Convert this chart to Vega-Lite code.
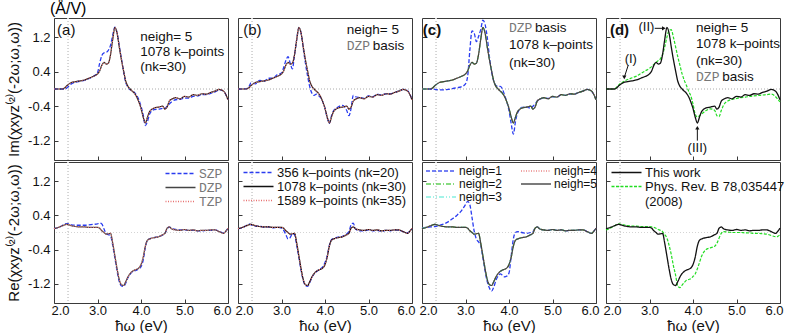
{
"$schema": "https://vega.github.io/schema/vega-lite/v6.json",
"background": "white",
"padding": {"left": 6, "top": 0, "right": 0, "bottom": 0},
"datasets": {"d": [
{"x":2.0,"im":0,"re":0.09,"is":0,"rs":0.09,"ik":0,"rk":0.09,"in1":0,"rn1":0.10,"ip":0,"rp":0.06},
{"x":2.1,"im":0,"re":0.12,"is":0,"rs":0.12,"ik":0,"rk":0.11,"in1":0,"rn1":0.12,"ip":0,"rp":0.10},
{"x":2.2,"im":0.0,"re":0.16,"is":0,"rs":0.17,"ik":0.01,"rk":0.17,"in1":0,"rn1":0.13,"ip":0.0,"rp":0.16},
{"x":2.25,"im":0.03,"re":0.18,"is":0.0,"rs":0.2,"ik":0.05,"rk":0.2,"in1":0,"rn1":0.14,"ip":0.05,"rp":0.19},
{"x":2.3,"im":0.08,"re":0.19,"is":0.03,"rs":0.21,"ik":0.14,"rk":0.18,"in1":-0.01,"rn1":0.14,"ip":0.1,"rp":0.2},
{"x":2.4,"im":0.15,"re":0.16,"is":0.12,"rs":0.18,"ik":0.12,"rk":0.15,"in1":-0.02,"rn1":0.17,"ip":0.17,"rp":0.18},
{"x":2.5,"im":0.17,"re":0.14,"is":0.16,"rs":0.17,"ik":0.2,"rk":0.15,"in1":-0.02,"rn1":0.2,"ip":0.22,"rp":0.16},
{"x":2.6,"im":0.19,"re":0.13,"is":0.18,"rs":0.17,"ik":0.18,"rk":0.12,"in1":-0.01,"rn1":0.25,"ip":0.26,"rp":0.15},
{"x":2.7,"im":0.21,"re":0.13,"is":0.2,"rs":0.17,"ik":0.25,"rk":0.13,"in1":0.01,"rn1":0.32,"ip":0.3,"rp":0.15},
{"x":2.8,"im":0.25,"re":0.12,"is":0.24,"rs":0.18,"ik":0.25,"rk":0.11,"in1":0.03,"rn1":0.4,"ip":0.36,"rp":0.14},
{"x":2.9,"im":0.29,"re":0.12,"is":0.29,"rs":0.19,"ik":0.33,"rk":0.12,"in1":0.05,"rn1":0.5,"ip":0.42,"rp":0.14},
{"x":3.0,"im":0.35,"re":0.12,"is":0.38,"rs":0.2,"ik":0.37,"rk":0.1,"in1":0.12,"rn1":0.65,"ip":0.48,"rp":0.14},
{"x":3.05,"im":0.42,"re":0.1,"is":0.6,"rs":0.22,"ik":0.5,"rk":0.05,"in1":0.3,"rn1":0.73,"ip":0.52,"rp":0.13},
{"x":3.1,"im":0.55,"re":0.04,"is":0.78,"rs":0.2,"ik":0.66,"rk":-0.05,"in1":0.9,"rn1":0.65,"ip":0.57,"rp":0.12},
{"x":3.15,"im":0.62,"re":0.0,"is":0.84,"rs":0.08,"ik":0.75,"rk":-0.15,"in1":1.35,"rn1":0.35,"ip":0.62,"rp":0.1},
{"x":3.2,"im":0.58,"re":-0.04,"is":0.85,"rs":-0.02,"ik":0.6,"rk":-0.12,"in1":1.3,"rn1":0.03,"ip":0.66,"rp":0.07},
{"x":3.25,"im":0.6,"re":-0.03,"is":0.9,"rs":-0.05,"ik":0.47,"rk":-0.03,"in1":1.1,"rn1":-0.15,"ip":0.7,"rp":0.05},
{"x":3.3,"im":0.8,"re":-0.02,"is":1.02,"rs":-0.08,"ik":0.8,"rk":-0.05,"in1":1.22,"rn1":-0.22,"ip":0.8,"rp":0.02},
{"x":3.35,"im":1.15,"re":-0.25,"is":1.25,"rs":-0.3,"ik":1.15,"rk":-0.3,"in1":1.38,"rn1":-0.3,"ip":0.98,"rp":-0.05},
{"x":3.4,"im":1.43,"re":-0.55,"is":1.44,"rs":-0.6,"ik":1.42,"rk":-0.58,"in1":1.6,"rn1":-0.6,"ip":1.2,"rp":-0.13},
{"x":3.45,"im":1.3,"re":-0.85,"is":1.3,"rs":-0.9,"ik":1.3,"rk":-0.88,"in1":1.5,"rn1":-0.9,"ip":1.36,"rp":-0.3},
{"x":3.5,"im":0.98,"re":-1.1,"is":1.0,"rs":-1.15,"ik":0.95,"rk":-1.12,"in1":1.2,"rn1":-1.15,"ip":1.38,"rp":-0.51},
{"x":3.55,"im":0.68,"re":-1.22,"is":0.7,"rs":-1.25,"ik":0.6,"rk":-1.24,"in1":0.75,"rn1":-1.3,"ip":1.2,"rp":-0.78},
{"x":3.6,"im":0.42,"re":-1.24,"is":0.4,"rs":-1.26,"ik":0.3,"rk":-1.26,"in1":0.4,"rn1":-1.37,"ip":0.98,"rp":-1.0},
{"x":3.65,"im":0.18,"re":-1.15,"is":0.15,"rs":-1.18,"ik":0.05,"rk":-1.17,"in1":0.18,"rn1":-1.28,"ip":0.75,"rp":-1.25},
{"x":3.7,"im":0.06,"re":-1.04,"is":0.05,"rs":-1.06,"ik":-0.1,"rk":-1.05,"in1":0.08,"rn1":-1.12,"ip":0.55,"rp":-1.29},
{"x":3.75,"im":0.0,"re":-0.96,"is":-0.02,"rs":-0.98,"ik":-0.15,"rk":-0.97,"in1":0.06,"rn1":-1.02,"ip":0.35,"rp":-1.23},
{"x":3.8,"im":-0.05,"re":-0.91,"is":-0.04,"rs":-0.92,"ik":-0.12,"rk":-0.92,"in1":0.06,"rn1":-0.97,"ip":0.2,"rp":-1.17},
{"x":3.85,"im":-0.1,"re":-0.88,"is":-0.08,"rs":-0.9,"ik":-0.15,"rk":-0.88,"in1":0.0,"rn1":-1.0,"ip":0.08,"rp":-1.12},
{"x":3.9,"im":-0.18,"re":-0.86,"is":-0.15,"rs":-0.88,"ik":-0.2,"rk":-0.85,"in1":-0.15,"rn1":-1.04,"ip":-0.05,"rp":-1.1},
{"x":3.95,"im":-0.3,"re":-0.83,"is":-0.25,"rs":-0.85,"ik":-0.3,"rk":-0.8,"in1":-0.3,"rn1":-1.02,"ip":-0.16,"rp":-1.08},
{"x":4.0,"im":-0.45,"re":-0.75,"is":-0.4,"rs":-0.8,"ik":-0.45,"rk":-0.7,"in1":-0.5,"rn1":-0.95,"ip":-0.35,"rp":-1.03},
{"x":4.05,"im":-0.65,"re":-0.58,"is":-0.6,"rs":-0.65,"ik":-0.66,"rk":-0.55,"in1":-0.8,"rn1":-0.55,"ip":-0.58,"rp":-0.97},
{"x":4.1,"im":-0.79,"re":-0.32,"is":-0.85,"rs":-0.35,"ik":-0.8,"rk":-0.3,"in1":-1.05,"rn1":-0.15,"ip":-0.65,"rp":-0.85},
{"x":4.15,"im":-0.65,"re":-0.18,"is":-0.75,"rs":-0.18,"ik":-0.62,"rk":-0.17,"in1":-0.75,"rn1":0.0,"ip":-0.62,"rp":-0.7},
{"x":4.2,"im":-0.52,"re":-0.15,"is":-0.58,"rs":-0.15,"ik":-0.5,"rk":-0.14,"in1":-0.55,"rn1":0.02,"ip":-0.58,"rp":-0.55},
{"x":4.3,"im":-0.44,"re":-0.12,"is":-0.48,"rs":-0.12,"ik":-0.42,"rk":-0.11,"in1":-0.43,"rn1":0.0,"ip":-0.5,"rp":-0.4},
{"x":4.4,"im":-0.42,"re":-0.1,"is":-0.47,"rs":-0.1,"ik":-0.38,"rk":-0.09,"in1":-0.42,"rn1":-0.02,"ip":-0.46,"rp":-0.36},
{"x":4.5,"im":-0.4,"re":-0.05,"is":-0.45,"rs":-0.06,"ik":-0.5,"rk":-0.03,"in1":-0.45,"rn1":0.0,"ip":-0.5,"rp":-0.32},
{"x":4.55,"im":-0.47,"re":-0.02,"is":-0.45,"rs":-0.02,"ik":-0.62,"rk":0.02,"in1":-0.4,"rn1":0.02,"ip":-0.62,"rp":-0.25},
{"x":4.6,"im":-0.42,"re":0.1,"is":-0.4,"rs":0.08,"ik":-0.45,"rk":0.18,"in1":-0.35,"rn1":0.1,"ip":-0.64,"rp":-0.13},
{"x":4.65,"im":-0.28,"re":0.13,"is":-0.35,"rs":0.13,"ik":-0.15,"rk":0.22,"in1":-0.28,"rn1":0.13,"ip":-0.5,"rp":-0.02},
{"x":4.7,"im":-0.24,"re":0.09,"is":-0.3,"rs":0.1,"ik":-0.18,"rk":0.08,"in1":-0.24,"rn1":0.09,"ip":-0.38,"rp":0.02},
{"x":4.8,"im":-0.2,"re":0.06,"is":-0.25,"rs":0.07,"ik":-0.2,"rk":0.04,"in1":-0.21,"rn1":0.06,"ip":-0.28,"rp":0.01},
{"x":4.9,"im":-0.23,"re":0.05,"is":-0.24,"rs":0.06,"ik":-0.22,"rk":0.04,"in1":-0.22,"rn1":0.05,"ip":-0.24,"rp":0.0},
{"x":5.0,"im":-0.17,"re":0.07,"is":-0.21,"rs":0.06,"ik":-0.16,"rk":0.06,"in1":-0.18,"rn1":0.07,"ip":-0.22,"rp":0.0},
{"x":5.1,"im":-0.19,"re":0.05,"is":-0.21,"rs":0.05,"ik":-0.18,"rk":0.04,"in1":-0.19,"rn1":0.05,"ip":-0.2,"rp":0.0},
{"x":5.2,"im":-0.13,"re":0.06,"is":-0.17,"rs":0.05,"ik":-0.12,"rk":0.05,"in1":-0.14,"rn1":0.06,"ip":-0.19,"rp":-0.01},
{"x":5.3,"im":-0.15,"re":0.04,"is":-0.16,"rs":0.04,"ik":-0.14,"rk":0.03,"in1":-0.15,"rn1":0.04,"ip":-0.17,"rp":-0.01},
{"x":5.4,"im":-0.11,"re":0.05,"is":-0.13,"rs":0.04,"ik":-0.11,"rk":0.05,"in1":-0.12,"rn1":0.05,"ip":-0.16,"rp":-0.02},
{"x":5.5,"im":-0.12,"re":0.05,"is":-0.13,"rs":0.05,"ik":-0.11,"rk":0.04,"in1":-0.12,"rn1":0.05,"ip":-0.15,"rp":-0.02},
{"x":5.6,"im":-0.08,"re":0.06,"is":-0.1,"rs":0.05,"ik":-0.08,"rk":0.06,"in1":-0.08,"rn1":0.06,"ip":-0.14,"rp":-0.03},
{"x":5.7,"im":-0.05,"re":0.06,"is":-0.07,"rs":0.06,"ik":-0.05,"rk":0.05,"in1":-0.05,"rn1":0.06,"ip":-0.13,"rp":-0.04},
{"x":5.8,"im":-0.01,"re":0.02,"is":-0.02,"rs":0.03,"ik":-0.01,"rk":0.02,"in1":-0.01,"rn1":0.02,"ip":-0.12,"rp":-0.07},
{"x":5.9,"im":-0.05,"re":-0.02,"is":-0.05,"rs":-0.01,"ik":-0.04,"rk":-0.01,"in1":-0.05,"rn1":-0.02,"ip":-0.18,"rp":-0.1},
{"x":5.95,"im":-0.13,"re":0.03,"is":-0.13,"rs":0.03,"ik":-0.12,"rk":0.03,"in1":-0.13,"rn1":0.03,"ip":-0.24,"rp":-0.09},
{"x":6.0,"im":-0.25,"re":0.1,"is":-0.25,"rs":0.1,"ik":-0.24,"rk":0.09,"in1":-0.25,"rn1":0.1,"ip":-0.3,"rp":-0.05}
]},
"data": {"name": "d"},
"config": {
  "font": "Liberation Sans",
  "view": {"stroke": "#3a3a3a", "strokeWidth": 1},
  "axis": {"domain": false, "grid": false, "tickSize": -4, "tickColor": "#3a3a3a", "labelFont": "Liberation Sans", "labelFontSize": 13, "labelColor": "#111", "labelPadding": 8, "titleFont": "Liberation Sans", "titleFontSize": 15, "titleFontWeight": "normal", "titleColor": "#111"},
  "axisX": {"titlePadding": 1, "labelPadding": 5, "labelFlush": true, "labelFlushOffset": 3},
  "axisY": {"titlePadding": 6},
  "legend": {"symbolSize": 100, "symbolStrokeWidth": 1.6, "labelOffset": 22, "rowPadding": 0, "padding": 0, "labelFont": "Liberation Sans", "labelFontSize": 13, "labelColor": "#111", "labelLimit": 400, "offset": 4},
  "text": {"font": "Liberation Sans", "color": "#111"}
},
"spacing": 0,
"resolve": {"scale": {"color": "independent", "strokeDash": "independent", "shape": "independent"}, "legend": {"color": "independent", "strokeDash": "independent", "shape": "independent"}},
"vconcat": [
{"hconcat": [
 {"width": 174, "height": 142,
  "title": {"text": "(Å/V)", "anchor": "start", "frame": "group", "fontSize": 16, "fontWeight": "normal", "offset": 1, "dx": -4, "font": "Liberation Sans"},
  "layer": [
   {"mark": {"type": "rule", "color": "#d4d4d4", "strokeDash": [1, 2]}, "encoding": {"y": {"datum": 0, "type": "quantitative", "scale": {"domain": [-1.65, 1.65], "nice": false}, "axis": {"values": [-1.2, -0.8, -0.4, 0, 0.4, 0.8, 1.2], "labelExpr": "replace(format(datum.value,'.1f'),'\u2212','-')", "title": "Im(χxyz⁽²⁾(-2ω;ω,ω))"}}}},
   {"mark": {"type": "rule", "color": "#d4d4d4", "strokeDash": [1, 2]}, "encoding": {"x": {"datum": 2.33, "type": "quantitative", "scale": {"domain": [2, 6], "nice": false}, "axis": {"values": [2, 3, 4, 5, 6], "labels": false, "title": null}}}},
   {"mark": {"type": "line", "color": "#2a3cf0", "strokeDash": [4, 2], "strokeWidth": 1.3, "interpolate": "monotone"}, "encoding": {"x": {"field": "x", "type": "quantitative"}, "y": {"field": "is", "type": "quantitative"}}},
   {"mark": {"type": "line", "color": "#222222", "strokeWidth": 1.2, "interpolate": "monotone"}, "encoding": {"x": {"field": "x", "type": "quantitative"}, "y": {"field": "im", "type": "quantitative"}}},
   {"mark": {"type": "line", "color": "#e87070", "strokeDash": [1, 1.5], "strokeWidth": 1.2, "interpolate": "monotone"}, "encoding": {"x": {"field": "x", "type": "quantitative"}, "y": {"field": "im", "type": "quantitative"}}},
   {"data": {"values": [{"x": 2.07, "y": 1.36, "t": "(a)"}]}, "mark": {"type": "text", "align": "left", "baseline": "middle", "fontSize": 15}, "encoding": {"x": {"field": "x", "type": "quantitative"}, "y": {"field": "y", "type": "quantitative"}, "text": {"field": "t"}}},
   {"data": {"values": [{"x": 3.98, "y": 1.22, "t": "neigh= 5"}, {"x": 3.98, "y": 0.87, "t": "1078 k–points"}, {"x": 3.98, "y": 0.5, "t": "(nk=30)"}]}, "mark": {"type": "text", "align": "left", "baseline": "middle", "fontSize": 13.5}, "encoding": {"x": {"field": "x", "type": "quantitative"}, "y": {"field": "y", "type": "quantitative"}, "text": {"field": "t"}}}
  ]},
 {"width": 174, "height": 142,
  "layer": [
   {"mark": {"type": "rule", "color": "#d4d4d4", "strokeDash": [1, 2]}, "encoding": {"y": {"datum": 0, "type": "quantitative", "scale": {"domain": [-1.65, 1.65], "nice": false}, "axis": {"values": [-1.2, -0.8, -0.4, 0, 0.4, 0.8, 1.2], "labels": false, "title": null}}}},
   {"mark": {"type": "rule", "color": "#d4d4d4", "strokeDash": [1, 2]}, "encoding": {"x": {"datum": 2.33, "type": "quantitative", "scale": {"domain": [2, 6], "nice": false}, "axis": {"values": [2, 3, 4, 5, 6], "labels": false, "title": null}}}},
   {"mark": {"type": "line", "color": "#2a3cf0", "strokeDash": [4, 2], "strokeWidth": 1.3, "interpolate": "monotone"}, "encoding": {"x": {"field": "x", "type": "quantitative"}, "y": {"field": "ik", "type": "quantitative"}}},
   {"mark": {"type": "line", "color": "#222222", "strokeWidth": 1.2, "interpolate": "monotone"}, "encoding": {"x": {"field": "x", "type": "quantitative"}, "y": {"field": "im", "type": "quantitative"}}},
   {"mark": {"type": "line", "color": "#e87070", "strokeDash": [1, 1.5], "strokeWidth": 1.2, "interpolate": "monotone"}, "encoding": {"x": {"field": "x", "type": "quantitative"}, "y": {"field": "im", "type": "quantitative"}}},
   {"data": {"values": [{"x": 2.12, "y": 1.36, "t": "(b)"}]}, "mark": {"type": "text", "align": "left", "baseline": "middle", "fontSize": 15}, "encoding": {"x": {"field": "x", "type": "quantitative"}, "y": {"field": "y", "type": "quantitative"}, "text": {"field": "t"}}},
   {"data": {"values": [{"x": 4.5, "y": 1.36, "t": "neigh= 5"}, {"x": 5.1, "y": 1.01, "t": "basis"}]}, "mark": {"type": "text", "align": "left", "baseline": "middle", "fontSize": 13.5}, "encoding": {"x": {"field": "x", "type": "quantitative"}, "y": {"field": "y", "type": "quantitative"}, "text": {"field": "t"}}},
   {"data": {"values": [{"x": 4.5, "y": 1.01, "t": "DZP"}]}, "mark": {"type": "text", "align": "left", "baseline": "middle", "fontSize": 13, "font": "Liberation Mono", "color": "#777777"}, "encoding": {"x": {"field": "x", "type": "quantitative"}, "y": {"field": "y", "type": "quantitative"}, "text": {"field": "t"}}}
  ]},
 {"width": 174, "height": 142,
  "layer": [
   {"mark": {"type": "rule", "color": "#d4d4d4", "strokeDash": [1, 2]}, "encoding": {"y": {"datum": 0, "type": "quantitative", "scale": {"domain": [-1.65, 1.65], "nice": false}, "axis": {"values": [-1.2, -0.8, -0.4, 0, 0.4, 0.8, 1.2], "labels": false, "title": null}}}},
   {"mark": {"type": "rule", "color": "#d4d4d4", "strokeDash": [1, 2]}, "encoding": {"x": {"datum": 2.33, "type": "quantitative", "scale": {"domain": [2, 6], "nice": false}, "axis": {"values": [2, 3, 4, 5, 6], "labels": false, "title": null}}}},
   {"mark": {"type": "line", "color": "#2a3cf0", "strokeDash": [4, 2], "strokeWidth": 1.3, "interpolate": "monotone"}, "encoding": {"x": {"field": "x", "type": "quantitative"}, "y": {"field": "in1", "type": "quantitative"}}},
   {"mark": {"type": "line", "color": "#45c83a", "strokeDash": [5, 2, 1, 2], "strokeWidth": 1.2, "interpolate": "monotone"}, "encoding": {"x": {"field": "x", "type": "quantitative"}, "y": {"field": "im", "type": "quantitative"}}},
   {"mark": {"type": "line", "color": "#70eedc", "strokeDash": [5, 2, 1, 2, 1, 2], "strokeWidth": 1.2, "interpolate": "monotone"}, "encoding": {"x": {"field": "x", "type": "quantitative"}, "y": {"field": "im", "type": "quantitative"}}},
   {"mark": {"type": "line", "color": "#e87070", "strokeDash": [1, 1.5], "strokeWidth": 1.2, "interpolate": "monotone"}, "encoding": {"x": {"field": "x", "type": "quantitative"}, "y": {"field": "im", "type": "quantitative"}}},
   {"mark": {"type": "line", "color": "#333333", "strokeWidth": 1.2, "interpolate": "monotone", "opacity": 0.85}, "encoding": {"x": {"field": "x", "type": "quantitative"}, "y": {"field": "im", "type": "quantitative"}}},
   {"data": {"values": [{"x": 2.02, "y": 1.37, "t": "(c)"}]}, "mark": {"type": "text", "align": "left", "baseline": "middle", "fontSize": 15, "fontWeight": "bold"}, "encoding": {"x": {"field": "x", "type": "quantitative"}, "y": {"field": "y", "type": "quantitative"}, "text": {"field": "t"}}},
   {"data": {"values": [{"x": 4.6, "y": 1.41, "t": "basis"}, {"x": 4.0, "y": 1.03, "t": "1078 k–points"}, {"x": 4.0, "y": 0.61, "t": "(nk=30)"}]}, "mark": {"type": "text", "align": "left", "baseline": "middle", "fontSize": 13.5}, "encoding": {"x": {"field": "x", "type": "quantitative"}, "y": {"field": "y", "type": "quantitative"}, "text": {"field": "t"}}},
   {"data": {"values": [{"x": 4.0, "y": 1.41, "t": "DZP"}]}, "mark": {"type": "text", "align": "left", "baseline": "middle", "fontSize": 13, "font": "Liberation Mono", "color": "#777777"}, "encoding": {"x": {"field": "x", "type": "quantitative"}, "y": {"field": "y", "type": "quantitative"}, "text": {"field": "t"}}}
  ]},
 {"width": 174, "height": 142,
  "layer": [
   {"mark": {"type": "rule", "color": "#d4d4d4", "strokeDash": [1, 2]}, "encoding": {"y": {"datum": 0, "type": "quantitative", "scale": {"domain": [-1.65, 1.65], "nice": false}, "axis": {"values": [-1.2, -0.8, -0.4, 0, 0.4, 0.8, 1.2], "labels": false, "title": null}}}},
   {"mark": {"type": "rule", "color": "#d4d4d4", "strokeDash": [1, 2]}, "encoding": {"x": {"datum": 2.33, "type": "quantitative", "scale": {"domain": [2, 6], "nice": false}, "axis": {"values": [2, 3, 4, 5, 6], "labels": false, "title": null}}}},
   {"mark": {"type": "line", "color": "#22dd22", "strokeDash": [3, 1.5], "strokeWidth": 1.2, "interpolate": "monotone"}, "encoding": {"x": {"field": "x", "type": "quantitative"}, "y": {"field": "ip", "type": "quantitative"}}},
   {"mark": {"type": "line", "color": "#111111", "strokeWidth": 1.3, "interpolate": "monotone"}, "encoding": {"x": {"field": "x", "type": "quantitative"}, "y": {"field": "im", "type": "quantitative"}}},
   {"data": {"values": [{"x": 2.51, "y": 0.55, "x2": 2.43, "y2": 0.3}, {"x": 3.12, "y": 1.41, "x2": 3.3, "y2": 1.41}, {"x": 4.1, "y": -1.2, "x2": 4.1, "y2": -0.93}]}, "mark": {"type": "rule", "color": "#111111", "strokeWidth": 1}, "encoding": {"x": {"field": "x", "type": "quantitative"}, "y": {"field": "y", "type": "quantitative"}, "x2": {"field": "x2"}, "y2": {"field": "y2"}}},
   {"data": {"values": [{"x": 2.42, "y": 0.27, "d": "dl"}, {"x": 3.33, "y": 1.41, "d": "r"}, {"x": 4.1, "y": -0.9, "d": "u"}]}, "mark": {"type": "point", "filled": true, "size": 18, "color": "#111111", "opacity": 1}, "encoding": {"x": {"field": "x", "type": "quantitative"}, "y": {"field": "y", "type": "quantitative"}, "shape": {"field": "d", "type": "nominal", "scale": {"domain": ["dl", "r", "u"], "range": ["triangle-down", "triangle-right", "triangle-up"]}, "legend": null}}},
   {"data": {"values": [{"x": 2.09, "y": 1.36, "t": "(d)"}]}, "mark": {"type": "text", "align": "left", "baseline": "middle", "fontSize": 15, "fontWeight": "bold"}, "encoding": {"x": {"field": "x", "type": "quantitative"}, "y": {"field": "y", "type": "quantitative"}, "text": {"field": "t"}}},
   {"data": {"values": [{"x": 4.07, "y": 1.41, "t": "neigh= 5"}, {"x": 4.07, "y": 1.05, "t": "1078 k–points"}, {"x": 4.07, "y": 0.66, "t": "(nk=30)"}, {"x": 4.67, "y": 0.28, "t": "basis"}]}, "mark": {"type": "text", "align": "left", "baseline": "middle", "fontSize": 13.5}, "encoding": {"x": {"field": "x", "type": "quantitative"}, "y": {"field": "y", "type": "quantitative"}, "text": {"field": "t"}}},
   {"data": {"values": [{"x": 4.07, "y": 0.28, "t": "DZP"}]}, "mark": {"type": "text", "align": "left", "baseline": "middle", "fontSize": 13, "font": "Liberation Mono", "color": "#777777"}, "encoding": {"x": {"field": "x", "type": "quantitative"}, "y": {"field": "y", "type": "quantitative"}, "text": {"field": "t"}}},
   {"data": {"values": [{"x": 2.57, "y": 0.7, "t": "(I)"}, {"x": 2.93, "y": 1.43, "t": "(II)"}, {"x": 4.1, "y": -1.36, "t": "(III)"}]}, "mark": {"type": "text", "align": "center", "baseline": "middle", "fontSize": 13}, "encoding": {"x": {"field": "x", "type": "quantitative"}, "y": {"field": "y", "type": "quantitative"}, "text": {"field": "t"}}}
  ]}
 ], "spacing": 10, "bounds": "flush",
 "resolve": {"scale": {"color": "independent", "strokeDash": "independent", "shape": "independent"}, "legend": {"color": "independent", "strokeDash": "independent", "shape": "independent"}}},
{"hconcat": [
 {"width": 174, "height": 141,
  "layer": [
   {"mark": {"type": "rule", "color": "#d4d4d4", "strokeDash": [1, 2]}, "encoding": {"y": {"datum": 0, "type": "quantitative", "scale": {"domain": [-1.65, 1.65], "nice": false}, "axis": {"values": [-1.2, -0.8, -0.4, 0, 0.4, 0.8, 1.2], "labelExpr": "replace(format(datum.value,'.1f'),'\u2212','-')", "title": "Re(χxyz⁽²⁾(-2ω;ω,ω))"}}}},
   {"mark": {"type": "rule", "color": "#d4d4d4", "strokeDash": [1, 2]}, "encoding": {"x": {"datum": 2.33, "type": "quantitative", "scale": {"domain": [2, 6], "nice": false}, "axis": {"values": [2, 3, 4, 5, 6], "format": ".1f", "title": "ħω (eV)"}}}},
   {"mark": {"type": "line", "strokeWidth": 1.3, "interpolate": "monotone"}, "encoding": {"x": {"field": "x", "type": "quantitative"}, "y": {"field": "rs", "type": "quantitative"},
     "color": {"datum": "SZP", "scale": {"domain": ["SZP", "DZP", "TZP"], "range": ["#2a3cf0", "#444444", "#e87070"]}, "legend": {"orient": "top-right", "title": null, "symbolType": "M-1,0H5", "labelFont": "Liberation Mono", "labelColor": "#777777", "offset": 5}},
     "strokeDash": {"datum": "SZP", "scale": {"domain": ["SZP", "DZP", "TZP"], "range": [[4, 2], [1, 0], [1, 1.5]]}, "legend": {"orient": "top-right", "title": null, "symbolType": "M-1,0H5", "labelFont": "Liberation Mono", "labelColor": "#777777", "offset": 5}}}},
   {"mark": {"type": "line", "strokeWidth": 1.2, "interpolate": "monotone"}, "encoding": {"x": {"field": "x", "type": "quantitative"}, "y": {"field": "re", "type": "quantitative"}, "color": {"datum": "DZP"}, "strokeDash": {"datum": "DZP"}}},
   {"mark": {"type": "line", "strokeWidth": 1.2, "interpolate": "monotone"}, "encoding": {"x": {"field": "x", "type": "quantitative"}, "y": {"field": "re", "type": "quantitative"}, "color": {"datum": "TZP"}, "strokeDash": {"datum": "TZP"}}}
  ]},
 {"width": 174, "height": 141,
  "layer": [
   {"mark": {"type": "rule", "color": "#d4d4d4", "strokeDash": [1, 2]}, "encoding": {"y": {"datum": 0, "type": "quantitative", "scale": {"domain": [-1.65, 1.65], "nice": false}, "axis": {"values": [-1.2, -0.8, -0.4, 0, 0.4, 0.8, 1.2], "labels": false, "title": null}}}},
   {"mark": {"type": "rule", "color": "#d4d4d4", "strokeDash": [1, 2]}, "encoding": {"x": {"datum": 2.33, "type": "quantitative", "scale": {"domain": [2, 6], "nice": false}, "axis": {"values": [2, 3, 4, 5, 6], "format": ".1f", "title": "ħω (eV)"}}}},
   {"mark": {"type": "line", "strokeWidth": 1.3, "interpolate": "monotone"}, "encoding": {"x": {"field": "x", "type": "quantitative"}, "y": {"field": "rk", "type": "quantitative"},
     "color": {"datum": "356 k–points (nk=20)", "scale": {"domain": ["356 k–points (nk=20)", "1078 k–points (nk=30)", "1589 k–points (nk=35)"], "range": ["#2a3cf0", "#111111", "#e87070"]}, "legend": {"orient": "top-left", "title": null, "symbolType": "M-1,0H5", "offset": 4}},
     "strokeDash": {"datum": "356 k–points (nk=20)", "scale": {"domain": ["356 k–points (nk=20)", "1078 k–points (nk=30)", "1589 k–points (nk=35)"], "range": [[4, 2], [1, 0], [1, 1.5]]}, "legend": {"orient": "top-left", "title": null, "symbolType": "M-1,0H5", "offset": 4}}}},
   {"mark": {"type": "line", "strokeWidth": 1.2, "interpolate": "monotone"}, "encoding": {"x": {"field": "x", "type": "quantitative"}, "y": {"field": "re", "type": "quantitative"}, "color": {"datum": "1078 k–points (nk=30)"}, "strokeDash": {"datum": "1078 k–points (nk=30)"}}},
   {"mark": {"type": "line", "strokeWidth": 1.2, "interpolate": "monotone"}, "encoding": {"x": {"field": "x", "type": "quantitative"}, "y": {"field": "re", "type": "quantitative"}, "color": {"datum": "1589 k–points (nk=35)"}, "strokeDash": {"datum": "1589 k–points (nk=35)"}}}
  ]},
 {"width": 174, "height": 141,
  "layer": [
   {"mark": {"type": "rule", "color": "#d4d4d4", "strokeDash": [1, 2]}, "encoding": {"y": {"datum": 0, "type": "quantitative", "scale": {"domain": [-1.65, 1.65], "nice": false}, "axis": {"values": [-1.2, -0.8, -0.4, 0, 0.4, 0.8, 1.2], "labels": false, "title": null}}}},
   {"mark": {"type": "rule", "color": "#d4d4d4", "strokeDash": [1, 2]}, "encoding": {"x": {"datum": 2.33, "type": "quantitative", "scale": {"domain": [2, 6], "nice": false}, "axis": {"values": [2, 3, 4, 5, 6], "format": ".1f", "title": "ħω (eV)"}}}},
   {"mark": {"type": "line", "strokeWidth": 1.3, "interpolate": "monotone"}, "encoding": {"x": {"field": "x", "type": "quantitative"}, "y": {"field": "rn1", "type": "quantitative"},
     "color": {"datum": "neigh=1", "scale": {"domain": ["neigh=1", "neigh=2", "neigh=3", "neigh=4", "neigh=5"], "range": ["#2a3cf0", "#45c83a", "#70eedc", "#e87070", "#333333"]}, "legend": {"orient": "top-left", "title": null, "symbolType": "M-1,0H5", "columns": 2, "columnPadding": 14, "rowPadding": 1, "labelFontSize": 12, "offset": 3}},
     "strokeDash": {"datum": "neigh=1", "scale": {"domain": ["neigh=1", "neigh=2", "neigh=3", "neigh=4", "neigh=5"], "range": [[4, 2], [5, 2, 1, 2], [5, 2, 1, 2, 1, 2], [1, 1.5], [1, 0]]}, "legend": {"orient": "top-left", "title": null, "symbolType": "M-1,0H5", "columns": 2, "columnPadding": 14, "rowPadding": 1, "labelFontSize": 12, "offset": 3}}}},
   {"mark": {"type": "line", "strokeWidth": 1.2, "interpolate": "monotone"}, "encoding": {"x": {"field": "x", "type": "quantitative"}, "y": {"field": "re", "type": "quantitative"}, "color": {"datum": "neigh=2"}, "strokeDash": {"datum": "neigh=2"}}},
   {"mark": {"type": "line", "strokeWidth": 1.2, "interpolate": "monotone"}, "encoding": {"x": {"field": "x", "type": "quantitative"}, "y": {"field": "re", "type": "quantitative"}, "color": {"datum": "neigh=3"}, "strokeDash": {"datum": "neigh=3"}}},
   {"mark": {"type": "line", "strokeWidth": 1.2, "interpolate": "monotone"}, "encoding": {"x": {"field": "x", "type": "quantitative"}, "y": {"field": "re", "type": "quantitative"}, "color": {"datum": "neigh=4"}, "strokeDash": {"datum": "neigh=4"}}},
   {"mark": {"type": "line", "strokeWidth": 1.2, "interpolate": "monotone", "opacity": 0.85}, "encoding": {"x": {"field": "x", "type": "quantitative"}, "y": {"field": "re", "type": "quantitative"}, "color": {"datum": "neigh=5"}, "strokeDash": {"datum": "neigh=5"}}}
  ]},
 {"width": 174, "height": 141,
  "layer": [
   {"mark": {"type": "rule", "color": "#d4d4d4", "strokeDash": [1, 2]}, "encoding": {"y": {"datum": 0, "type": "quantitative", "scale": {"domain": [-1.65, 1.65], "nice": false}, "axis": {"values": [-1.2, -0.8, -0.4, 0, 0.4, 0.8, 1.2], "labels": false, "title": null}}}},
   {"mark": {"type": "rule", "color": "#d4d4d4", "strokeDash": [1, 2]}, "encoding": {"x": {"datum": 2.33, "type": "quantitative", "scale": {"domain": [2, 6], "nice": false}, "axis": {"values": [2, 3, 4, 5, 6], "format": ".1f", "title": "ħω (eV)"}}}},
   {"mark": {"type": "line", "strokeWidth": 1.2, "interpolate": "monotone"}, "encoding": {"x": {"field": "x", "type": "quantitative"}, "y": {"field": "rp", "type": "quantitative"},
     "color": {"datum": "PRB", "scale": {"domain": ["This work", "PRB"], "range": ["#111111", "#22dd22"]}, "legend": {"orient": "top-left", "title": null, "symbolType": "M-1,0H5", "offset": 4, "labelExpr": "datum.value == 'PRB' ? ['Phys. Rev. B 78,035447', '(2008)'] : datum.label"}},
     "strokeDash": {"datum": "PRB", "scale": {"domain": ["This work", "PRB"], "range": [[1, 0], [3, 1.5]]}, "legend": {"orient": "top-left", "title": null, "symbolType": "M-1,0H5", "offset": 4, "labelExpr": "datum.value == 'PRB' ? ['Phys. Rev. B 78,035447', '(2008)'] : datum.label"}}}},
   {"mark": {"type": "line", "strokeWidth": 1.3, "interpolate": "monotone"}, "encoding": {"x": {"field": "x", "type": "quantitative"}, "y": {"field": "re", "type": "quantitative"}, "color": {"datum": "This work"}, "strokeDash": {"datum": "This work"}}}
  ]}
 ], "spacing": 10, "bounds": "flush",
 "resolve": {"scale": {"color": "independent", "strokeDash": "independent", "shape": "independent"}, "legend": {"color": "independent", "strokeDash": "independent", "shape": "independent"}}}
]
}
